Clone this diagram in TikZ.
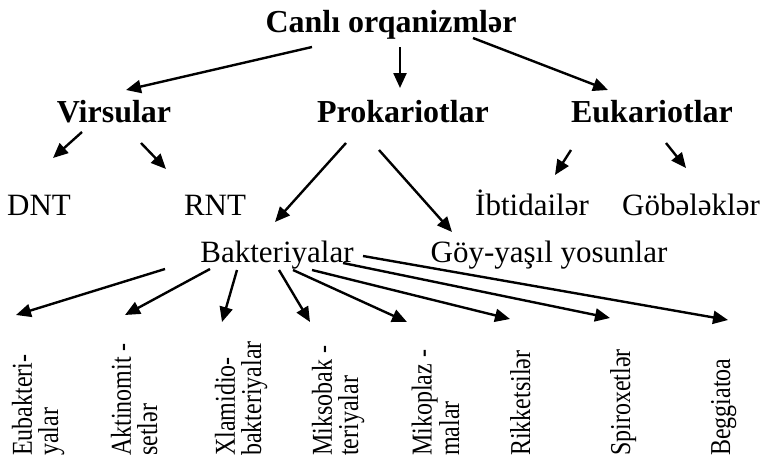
\documentclass[tikz,border=0pt]{standalone}
\usepackage{fontspec}
\setmainfont{Liberation Serif}
\usetikzlibrary{arrows.meta,calc}
\tikzset{
  group/.style = {font=\fontsize{32}{36}\selectfont\bfseries, inner sep=0pt, anchor=base},
  member/.style = {font=\fontsize{31}{36}\selectfont, inner sep=0pt, anchor=base},
  kind/.style = {font=\fontsize{24}{21.7}\selectfont, inner sep=0pt, rotate=90,
    yscale=1.2, anchor=base west, align=left},
  arr/.style = {line width=2.4pt, -{Triangle[length=15pt,width=13pt]}}
}
\begin{document}
\begin{tikzpicture}[x=1pt, y=-1pt]
  \useasboundingbox (0,0) rectangle (772,463);
  % levels
  \node[group] (canli) at (391,32) {Canlı orqanizmlər};
  \node[group] (virsular) at (114,122) {Virsular};
  \node[group] (prokar) at (403,122) {Prokariotlar};
  \node[group] (eukar) at (652,122) {Eukariotlar};
  \node[member] (dnt) at (39,215) {DNT};
  \node[member] (rnt) at (215,215) {RNT};
  \node[member] (ibtid) at (532,215) {İbtidailər};
  \node[member] (gobel) at (691,215) {Göbələklər};
  \node[member] (bakter) at (277,262) {Bakteriyalar};
  \node[member] (goyyasil) at (549,262) {Göy-yaşıl yosunlar};
  % bacteria groups (anchored at the last line)
  \node[kind] (eubak) at (58,456) {Eubakteri-\\yalar};
  \node[kind] (aktin) at (157,456) {Aktinomit -\\setlər};
  \node[kind] (xlami) at (261,456) {Xlamidio-\\bakteriyalar};
  \node[kind] (mikso) at (358,456) {Miksobak -\\teriyalar};
  \node[kind] (mikop) at (459,456) {Mikoplaz -\\malar};
  \node[kind] (rikke) at (530,456) {Rikketsilər};
  \node[kind] (spiro) at (630,456) {Spiroxetlər};
  \node[kind] (beggi) at (730,456) {Beggiatoa};
  % arrows
  \draw[arr] ($(canli.base)+(-79,15)$) -- ($(virsular.base)+(12,-32)$);
  \draw[arr] ($(canli.base)+(9,15)$) -- ($(prokar.base)+(-3,-34)$);
  \draw[arr] ($(canli.base)+(82,6)$) -- ($(eukar.base)+(-44,-32)$);
  \draw[arr] ($(virsular.base)+(-32,10)$) -- ($(dnt.base)+(14,-57)$);
  \draw[arr] ($(virsular.base)+(27,21)$) -- ($(rnt.base)+(-49,-46)$);
  \draw[arr] ($(prokar.base)+(-57,21)$) -- ($(bakter.base)+(-2,-40)$);
  \draw[arr] ($(prokar.base)+(-24,28)$) -- ($(goyyasil.base)+(-97,-30)$);
  \draw[arr] ($(eukar.base)+(-81,28)$) -- ($(ibtid.base)+(23,-40)$);
  \draw[arr] ($(eukar.base)+(14,21)$) -- ($(gobel.base)+(-5,-47)$);
  % from Bakteriyalar
  \draw[arr] ($(bakter.base)+(-112,7)$) -- ($(eubak.base west)+(-42,-141)$);
  \draw[arr] ($(bakter.base)+(-67,7)$) -- ($(aktin.base west)+(-32,-141)$);
  \draw[arr] ($(bakter.base)+(-40,8)$) -- ($(xlami.base west)+(-39,-134)$);
  \draw[arr] ($(bakter.base)+(2,8)$) -- ($(mikso.base west)+(-48,-134)$);
  \draw[arr] ($(bakter.base)+(16,8)$) -- ($(mikop.base west)+(-52,-134)$);
  \draw[arr] ($(bakter.base)+(35,8)$) -- ($(rikke.base west)+(-20,-137)$);
  \draw[arr] ($(bakter.base)+(66,1)$) -- ($(spiro.base west)+(-20,-138)$);
  \draw[arr] ($(bakter.base)+(86,-6)$) -- ($(beggi.base west)+(-2,-136)$);
\end{tikzpicture}
\end{document}
